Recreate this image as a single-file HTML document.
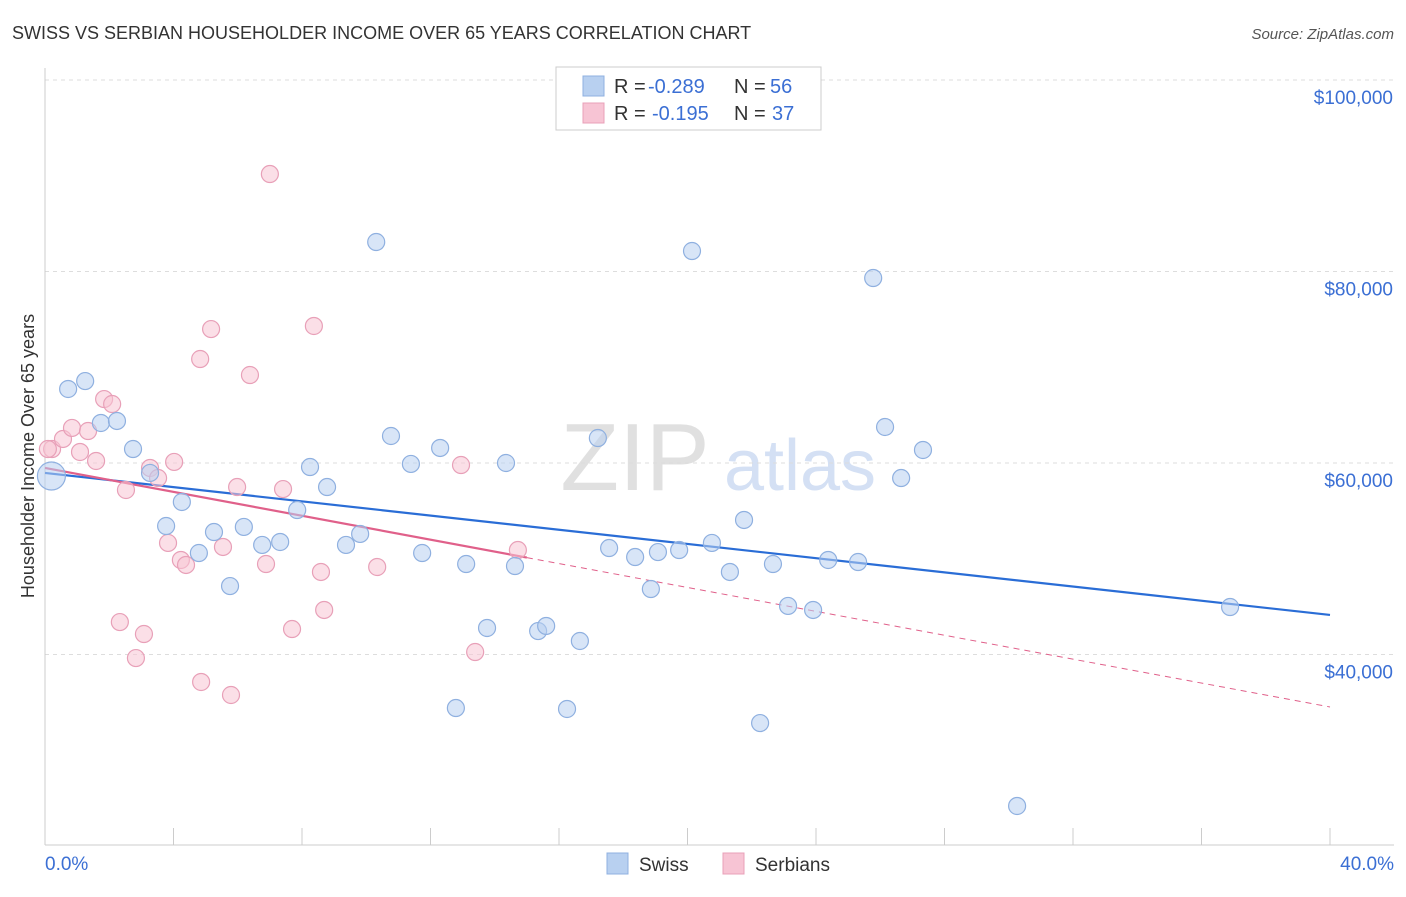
<!DOCTYPE html>
<html><head><meta charset="utf-8"><style>
body{margin:0;background:#fff;font-family:"Liberation Sans",sans-serif}
svg text{font-family:"Liberation Sans",sans-serif}
</style></head><body>
<svg id="c" width="1406" height="892" viewBox="0 0 1406 892" xmlns="http://www.w3.org/2000/svg">
<text x="12" y="39" font-size="18" fill="#333">SWISS VS SERBIAN HOUSEHOLDER INCOME OVER 65 YEARS CORRELATION CHART</text>
<text x="1394" y="39" font-size="15" fill="#555" text-anchor="end" font-style="italic">Source: ZipAtlas.com</text>
<g>
<text x="635" y="490" font-size="96" fill="#e0e0e0" text-anchor="middle" font-family="Liberation Serif,serif">ZIP</text>
<text x="800" y="490" font-size="72" fill="#d4e0f4" text-anchor="middle">atlas</text>
</g>
<g id="grid"></g>
<g id="axes"></g>
<g id="lines"></g>
<g id="pts"></g>
<text x="34" y="456" font-size="18" fill="#333" text-anchor="middle" transform="rotate(-90 34 456)">Householder Income Over 65 years</text>
<g>
<rect x="556" y="67" width="265" height="63" fill="#fff" stroke="#ccc"/>
<rect x="583" y="76" width="21" height="20" fill="#b8d0f0" stroke="#8fb0e0"/>
<rect x="583" y="103" width="21" height="20" fill="#f7c4d4" stroke="#e8a0b8"/>
<text x="614" y="93" font-size="20" fill="#333">R =</text>
<text x="648" y="93" font-size="20" fill="#3b6fd4">-0.289</text>
<text x="734" y="93" font-size="20" fill="#333">N =</text>
<text x="770" y="93" font-size="20" fill="#3b6fd4">56</text>
<text x="614" y="120" font-size="20" fill="#333">R =</text>
<text x="652" y="120" font-size="20" fill="#3b6fd4">-0.195</text>
<text x="734" y="120" font-size="20" fill="#333">N =</text>
<text x="772" y="120" font-size="20" fill="#3b6fd4">37</text>
</g>
<g>
<rect x="607" y="853" width="21" height="21" fill="#b8d0f0" stroke="#8fb0e0"/>
<text x="639" y="871" font-size="19" fill="#333">Swiss</text>
<rect x="723" y="853" width="21" height="21" fill="#f7c4d4" stroke="#e8a0b8"/>
<text x="755" y="871" font-size="19" fill="#333">Serbians</text>
</g>
</svg>
<script>
const yTicks=[100000,80000,60000,40000];
const yTickLabels=["$100,000","$80,000","$60,000","$40,000"];
const xTickLabels=["0.0%","40.0%"];
const swissX=[0.2,0.72,1.25,1.74,2.24,2.74,3.27,3.77,4.26,4.79,5.26,5.76,6.19,6.76,7.32,7.85,8.25,8.78,9.37,9.81,10.31,10.77,11.39,11.74,12.3,12.79,13.11,13.76,14.35,14.63,15.35,15.6,16.25,16.65,17.21,17.56,18.37,18.86,19.08,19.74,20.14,20.76,21.32,21.76,22.26,22.66,23.13,23.91,24.38,25.31,25.78,26.15,26.65,27.33,30.26,36.89];
const swissY=[58640,67730,68560,64180,64390,61460,58960,53420,55930,50600,52790,47150,53320,51440,51750,55090,59580,57490,51440,52590,83080,62820,59900,50600,61570,34410,49450,42770,60000,49240,42450,42980,34310,41410,62610,51120,50180,46840,50700,50910,82140,51650,48620,54050,32840,49450,45070,44650,49870,49660,79320,63760,58430,61360,24180,44960];
const serbX=[7.0,0.22,0.09,0.56,0.84,1.09,1.34,1.59,1.84,2.09,2.52,2.33,2.83,3.08,3.27,3.52,3.83,4.02,4.23,4.39,4.83,4.86,5.17,5.54,5.79,5.98,6.38,6.88,7.41,7.69,8.37,8.59,8.69,10.34,12.95,13.39,14.72];
const serbY=[90180,61460,61460,62510,63660,61150,63340,60210,66680,66160,57180,43390,39630,42140,59480,58430,51650,60110,49870,49350,70860,37130,73990,51230,35770,57490,69190,49450,57280,42660,74310,48620,44650,49140,59790,40260,50910];
const swissTrend=[58960,44130];
const serbTrend=[59480,34520];
const NS="http://www.w3.org/2000/svg";
const X=p=>45+p/40*1285;
const Y=v=>80+(100000-v)/20000*191.5;
function mk(t,a,parent){const e=document.createElementNS(NS,t);for(const k in a)e.setAttribute(k,a[k]);document.getElementById(parent).appendChild(e);return e;}
yTicks.forEach((v,i)=>{
 const l=mk('line',{x1:45,x2:1394,y1:Y(v),y2:Y(v),stroke:'#ddd','stroke-dasharray':'4,4'},'grid');
 
 
 const t=mk('text',{x:1393,y:Y(v)+24,'font-size':19,fill:'#3b6fd4','text-anchor':'end'},'grid');
 t.textContent=yTickLabels[i];
 
 
});
let a=mk('line',{x1:45,x2:45,y1:68,y2:845,stroke:'#ccc'},'axes');


a=mk('line',{x1:45,x2:1394,y1:845,y2:845,stroke:'#ccc'},'axes');


for(let i=1;i<=10;i++){const t=mk('line',{x1:X(i*4),x2:X(i*4),y1:828,y2:845,stroke:'#ccc'},'axes');
 
 }
[[0,'start',45],[40,'end',1394]].forEach((d,i)=>{const t=mk('text',{x:d[2],y:870,'font-size':19,fill:'#3b6fd4','text-anchor':d[1]},'axes');t.textContent=xTickLabels[i];
 
 });
function pts(xs,ys,fill,stroke,name){xs.forEach((x,i)=>{const c=mk('circle',{cx:X(x),cy:Y(ys[i]),r:(name==='swiss-point'&&i===0)?14:8.5,fill:fill,'fill-opacity':0.55,stroke:stroke,'stroke-width':1.2},'pts');
 
 });}
pts(serbX,serbY,'#f7c4d4','#e8a0b8','serbian-point');
pts(swissX,swissY,'#b8d0f0','#8fb0e0','swiss-point');
const sv=p=>serbTrend[0]+(serbTrend[1]-serbTrend[0])*p/40;
let l=mk('line',{x1:X(0),y1:Y(swissTrend[0]),x2:X(40),y2:Y(swissTrend[1]),stroke:'#2a6dd6','stroke-width':2.2},'lines');


l=mk('line',{x1:X(0),y1:Y(sv(0)),x2:X(15),y2:Y(sv(15)),stroke:'#e0608a','stroke-width':2.2},'lines');


l=mk('line',{x1:X(15),y1:Y(sv(15)),x2:X(40),y2:Y(sv(40)),stroke:'#e0608a','stroke-width':1,'stroke-dasharray':'6,5'},'lines');


</script>
</body></html>
